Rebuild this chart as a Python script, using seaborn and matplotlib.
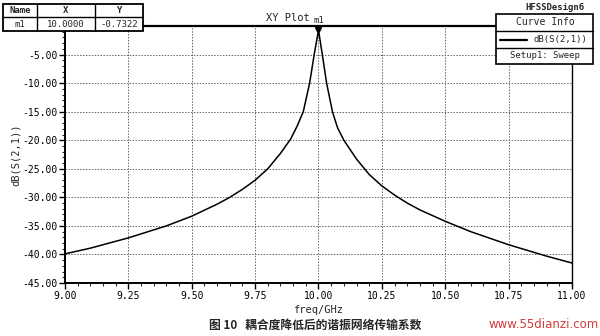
import matplotlib
matplotlib.use("Agg")
import matplotlib.pyplot as plt
from matplotlib.patches import Rectangle
from matplotlib.lines import Line2D
import seaborn as sns
import pandas as pd
import numpy as np

# ---- data ----
freq_ghz = [9.00, 9.10, 9.25, 9.40, 9.50, 9.60, 9.65, 9.70, 9.75, 9.80, 9.85, 9.89,
            9.915, 9.94, 9.965, 9.983, 10.00, 10.015, 10.032, 10.055, 10.075, 10.10, 10.15,
            10.20, 10.25, 10.30, 10.35, 10.40, 10.50, 10.60, 10.75, 10.90, 11.00]
db_s21 = [-39.9, -38.9, -37.1, -35.0, -33.3, -31.2, -30.0, -28.6, -27.0, -25.0, -22.3, -19.8,
          -17.6, -15.0, -10.0, -5.0, -0.7322, -5.0, -10.0, -15.0, -17.8, -20.0, -23.3,
          -26.0, -28.0, -29.6, -31.0, -32.2, -34.2, -36.0, -38.3, -40.3, -41.5]
x_ticks = [9.00, 9.25, 9.50, 9.75, 10.00, 10.25, 10.50, 10.75, 11.00]
y_ticks = [-45, -40, -35, -30, -25, -20, -15, -10, -5]
marker_name = "m1"
marker_x = 10.0000
marker_y = -0.7322

df = pd.DataFrame({"freq": freq_ghz, "dB": db_s21})

sns.set_theme(style="white")
plt.rcParams["font.family"] = ["DejaVu Sans Mono", "Noto Sans CJK SC"]

W, H = 600, 336
fig = plt.figure(figsize=(6, 3.36), dpi=100)
ax = fig.add_axes([65 / W, 1 - 283 / H, (572 - 65) / W, (283 - 26) / H])

sns.lineplot(data=df, x="freq", y="dB", ax=ax, color="black", linewidth=1.1)

ax.set_xlim(9.0, 11.0)
ax.set_ylim(-45, 0)
ax.set_xticks(x_ticks)
ax.set_xticklabels([f"{v:.2f}" for v in x_ticks])
ax.set_yticks(y_ticks)
ax.set_yticklabels([f"{v:.2f}" for v in y_ticks])
ax.set_xticks(np.arange(9.0, 11.001, 0.05), minor=True)
ax.set_yticks(np.arange(-45, 0.01, 1), minor=True)
ax.tick_params(axis="both", which="major", direction="out", length=4, width=1,
               labelsize=7, colors="black", pad=1.5)
ax.tick_params(axis="both", which="minor", direction="out", length=2, width=0.8)
ax.tick_params(axis="x", bottom=True, which="both")
ax.tick_params(axis="y", left=True, which="both")
ax.grid(True, which="major", linestyle=(0, (1.5, 1.5)), color="#666666", linewidth=0.7)

for s in ["left", "bottom"]:
    ax.spines[s].set_linewidth(1.4)
    ax.spines[s].set_color("black")
ax.spines["top"].set_linewidth(1.6)
ax.spines["top"].set_color("black")
ax.spines["right"].set_linewidth(1.0)
ax.spines["right"].set_color("black")

ax.set_xlabel("freq/GHz", fontsize=7.5, labelpad=3)
ax.set_ylabel("dB(S(2,1))", fontsize=7.5, labelpad=1)

# marker
ax.plot([marker_x], [marker_y], marker="v", color="black", markersize=4, clip_on=False)
ax.annotate(marker_name, (marker_x, 0), xytext=(0, 1), textcoords="offset points",
            ha="center", va="bottom", fontsize=6.5)

def fx(x):
    return x / W

def fy(y):
    return 1 - y / H

# title
fig.text(fx(288), fy(18), "XY Plot", ha="center", va="center", fontsize=7.5)

# marker table (top-left)
fig.add_artist(Rectangle((fx(3), fy(31)), fx(140), 27 / H, transform=fig.transFigure,
                         facecolor="white", edgecolor="black", linewidth=1.3, zorder=5))
fig.add_artist(Line2D([fx(3), fx(143)], [fy(17), fy(17)], transform=fig.transFigure,
                      color="black", linewidth=1.0, zorder=6))
for xc in (37, 95):
    fig.add_artist(Line2D([fx(xc), fx(xc)], [fy(4), fy(31)], transform=fig.transFigure,
                          color="black", linewidth=1.0, zorder=6))
for xc, t in ((20, "Name"), (66, "X"), (119, "Y")):
    fig.text(fx(xc), fy(10.5), t, ha="center", va="center", fontsize=6.5, zorder=7,
             fontweight="bold")
for xc, t in ((20, marker_name), (66, f"{marker_x:.4f}"), (119, f"{marker_y:.4f}")):
    fig.text(fx(xc), fy(24.5), t, ha="center", va="center", fontsize=6.5, zorder=7)

# curve info box (top-right)
fig.text(fx(555), fy(8), "HFSSDesign6", ha="center", va="center", fontsize=6.5,
         fontweight="bold")
fig.add_artist(Rectangle((fx(496), fy(64)), fx(97), 50 / H, transform=fig.transFigure,
                         facecolor="white", edgecolor="black", linewidth=1.2, zorder=5))
for yl in (31, 48):
    fig.add_artist(Line2D([fx(496), fx(593)], [fy(yl), fy(yl)], transform=fig.transFigure,
                          color="black", linewidth=1.0, zorder=6))
fig.text(fx(545), fy(22), "Curve Info", ha="center", va="center", fontsize=7, zorder=7)
fig.add_artist(Line2D([fx(500), fx(527)], [fy(39.5), fy(39.5)], transform=fig.transFigure,
                      color="black", linewidth=1.6, zorder=7))
fig.text(fx(560), fy(39.5), "dB(S(2,1))", ha="center", va="center", fontsize=6.5, zorder=7)
fig.text(fx(545), fy(56), "Setup1: Sweep", ha="center", va="center", fontsize=6.5, zorder=7)

# caption and watermark
fig.text(fx(315), fy(325), "图 10   耦合度降低后的谐振网络传输系数", ha="center", va="center",
         fontsize=8.5, fontweight="bold", family=["Noto Sans CJK SC", "DejaVu Sans"])
fig.text(fx(599), fy(325), "www.55dianzi.com", ha="right", va="center", fontsize=8.5,
         color="#d23c3c", family=["DejaVu Sans"])

fig.savefig("out.png", dpi=100, facecolor="white")
